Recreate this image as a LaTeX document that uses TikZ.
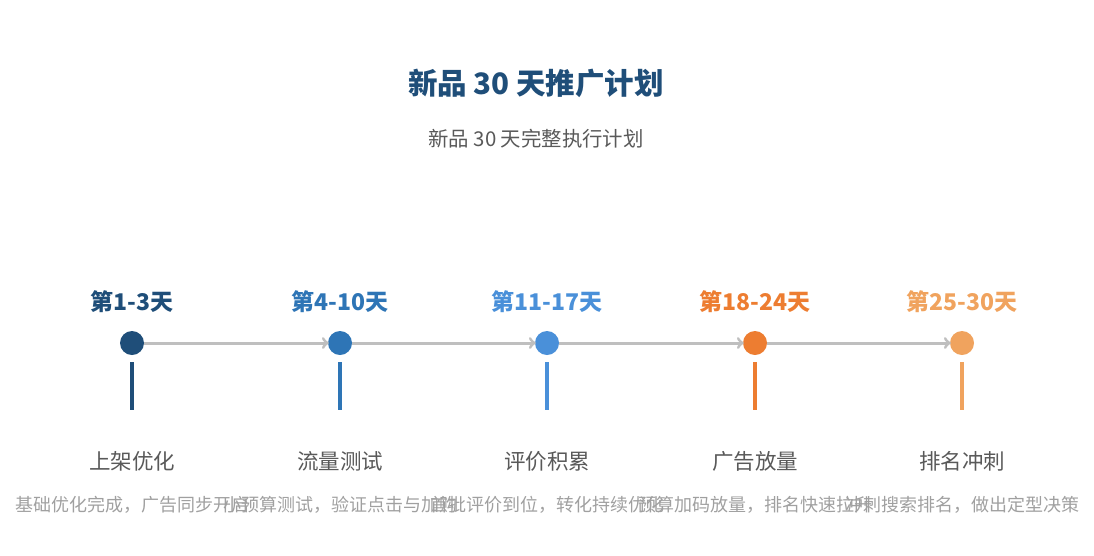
\documentclass[tikz,border=0pt]{standalone}
\usepackage{fontspec}
\setmainfont{Noto Sans CJK SC}
\usepackage{tikz}
\usetikzlibrary{arrows}
\usetikzlibrary{positioning}
\definecolor{titleblue}{HTML}{1F4E79}
\definecolor{stageone}{HTML}{1F4E79}
\definecolor{stagetwo}{HTML}{2E75B6}
\definecolor{stagethree}{HTML}{4A90D9}
\definecolor{stagefour}{HTML}{ED7D31}
\definecolor{stagefive}{HTML}{F0A35E}
\definecolor{linegray}{HTML}{BFBFBF}
\definecolor{namegray}{HTML}{595959}
\definecolor{descgray}{HTML}{A0A0A0}

\begin{document}
\begin{tikzpicture}[x=1pt, y=-1pt,
	dot/.style={circle, inner sep=0pt, minimum size=24pt},
	daylabel/.style={font=\fontsize{23}{23}\selectfont\bfseries, inner sep=0pt},
	stagename/.style={font=\fontsize{21.5}{21.5}\selectfont, text=namegray, inner sep=0pt},
	stagedesc/.style={font=\fontsize{18}{18}\selectfont, text=descgray, inner sep=0pt},
	flow/.style={draw=linegray, line width=3pt, ->, shorten >=-1pt},
	stem/.style={line width=3.5pt}]
				
				\useasboundingbox (0,0) rectangle (1094,555);
				
				\pgfmathsetmacro{\doty}{343}
				\pgfmathsetmacro{\stemtop}{362}
				\pgfmathsetmacro{\stembot}{410}
				
				\node[font=\fontsize{29.5}{29.5}\selectfont\bfseries, text=titleblue, inner sep=0pt] (title) at (536,83) {新品 30 天推广计划};
				\node[font=\fontsize{20.4}{20.4}\selectfont, text=namegray, inner sep=0pt] (subtitle) at (536,139) {新品 30 天完整执行计划};
				
				\node[dot, fill=stageone] (dot1) at (132,\doty) {};
				\node[dot, fill=stagetwo] (dot2) at (340,\doty) {};
				\node[dot, fill=stagethree] (dot3) at (547,\doty) {};
				\node[dot, fill=stagefour] (dot4) at (755,\doty) {};
				\node[dot, fill=stagefive] (dot5) at (962,\doty) {};
				
				\draw[flow] (dot1) -- (dot2);
				\draw[flow] (dot2) -- (dot3);
				\draw[flow] (dot3) -- (dot4);
				\draw[flow] (dot4) -- (dot5);
				
				\node[daylabel, text=stageone] (day1) at (132,302) {第1-3天};
				\node[daylabel, text=stagetwo] (day2) at (340,302) {第4-10天};
				\node[daylabel, text=stagethree] (day3) at (547,302) {第11-17天};
				\node[daylabel, text=stagefour] (day4) at (755,302) {第18-24天};
				\node[daylabel, text=stagefive] (day5) at (962,302) {第25-30天};
				
				\draw[stem, stageone] (132,\stemtop) -- (132,\stembot);
				\draw[stem, stagetwo] (340,\stemtop) -- (340,\stembot);
				\draw[stem, stagethree] (547,\stemtop) -- (547,\stembot);
				\draw[stem, stagefour] (755,\stemtop) -- (755,\stembot);
				\draw[stem, stagefive] (962,\stemtop) -- (962,\stembot);
				
				\node[stagename] (name1) at (132,461) {上架优化};
				\node[stagename] (name2) at (340,461) {流量测试};
				\node[stagename] (name3) at (547,461) {评价积累};
				\node[stagename] (name4) at (755,461) {广告放量};
				\node[stagename] (name5) at (962,461) {排名冲刺};
				
				\node[stagedesc] (desc1) at (132,505) {基础优化完成，广告同步开启};
				\node[stagedesc] (desc2) at (340,505) {小预算测试，验证点击与加购};
				\node[stagedesc] (desc3) at (547,505) {首批评价到位，转化持续优化};
				\node[stagedesc] (desc4) at (755,505) {预算加码放量，排名快速拉升};
				\node[stagedesc] (desc5) at (962,505) {冲刺搜索排名，做出定型决策};
				\end{tikzpicture}
\end{document}
